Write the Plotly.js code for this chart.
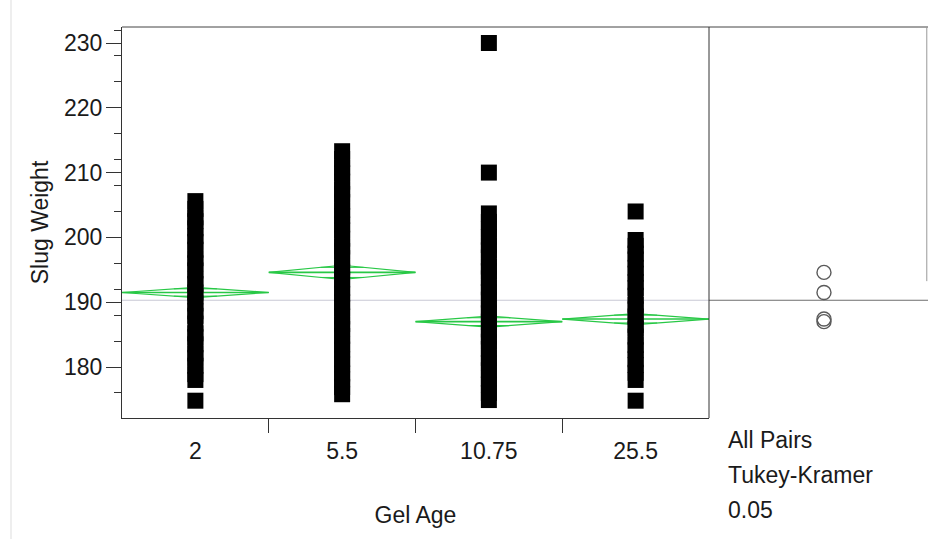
<!DOCTYPE html>
<html>
<head>
<meta charset="utf-8">
<script src="https://cdn.plot.ly/plotly-3.0.1.min.js"></script>
<style>html,body{margin:0;padding:0;background:#fff;}#chart{width:928px;height:539px;}</style>
</head>
<body>
<div id="chart"></div>
<script>
// ---- data ----
const categories = ["2", "5.5", "10.75", "25.5"];
const weights_2 = [174.8, 178.0, 178.9, 180.2, 181.4, 182.1, 183.5, 184.6, 185.2, 186.7, 187.9, 188.6, 189.8, 190.9, 191.5, 192.8, 193.6, 194.9, 196.0, 196.8, 198.1, 199.3, 200.2, 201.4, 202.5, 203.1, 204.4, 205.6];
const weights_5_5 = [175.8, 176.9, 178.1, 179.0, 180.4, 181.2, 182.7, 183.5, 184.8, 185.9, 186.6, 187.8, 189.1, 190.0, 191.3, 192.2, 193.5, 194.7, 195.4, 196.8, 197.9, 198.6, 199.8, 201.1, 202.0, 203.3, 204.2, 205.5, 206.7, 207.4, 208.6, 209.9, 210.8, 212.1, 213.3];
const weights_10_75 = [174.9, 176.0, 177.3, 178.2, 179.5, 180.6, 181.4, 182.8, 183.9, 184.7, 185.8, 187.0, 188.3, 189.1, 190.4, 191.6, 192.3, 193.7, 194.8, 195.5, 196.9, 198.0, 198.8, 200.1, 201.3, 202.4, 203.7, 210.0, 230.0];
const weights_25_5 = [174.8, 178.0, 179.1, 180.3, 181.2, 182.6, 183.4, 184.7, 185.9, 186.5, 187.8, 188.9, 189.6, 191.0, 192.2, 193.1, 194.4, 195.3, 196.6, 197.5, 198.7, 199.6, 204.0];
const groupMeans = [191.5, 194.6, 187.0, 187.4];
const ciHalfWidth = [0.8, 1.1, 0.85, 0.85];
const grandMean = 190.3;
const panelLabels = ["All Pairs", "Tukey-Kramer", "0.05"];

const groups = [weights_2, weights_5_5, weights_10_75, weights_25_5];
const FONT = "Liberation Sans, Arial, sans-serif";
const FS = 23;
const TXT = "#1a1a1a";
const GREEN = "rgb(40,200,70)";
const mainRight = 587 / 806;
const Y_RANGE = [172.13, 232.47];
const NO_MINOR = {ticks: "", showgrid: false};

const traces = [];
traces.push({x: [-0.5, 3.5], y: [grandMean, grandMean], mode: "lines", type: "scatter",
  line: {color: "rgb(200,200,212)", width: 1.2}, hoverinfo: "skip", showlegend: false});
groups.forEach((g, i) => {
  const m = groupMeans[i], h = ciHalfWidth[i];
  traces.push({x: [i - 0.5, i, i + 0.5, i, i - 0.5], y: [m, m + h, m, m - h, m],
    mode: "lines", type: "scatter", line: {color: GREEN, width: 1.2}, showlegend: false, hoverinfo: "skip"});
  traces.push({x: [i - 0.5, i + 0.5], y: [m, m], mode: "lines", type: "scatter",
    line: {color: GREEN, width: 1.6}, showlegend: false, hoverinfo: "skip"});
  const o = h / Math.SQRT2, w = 0.5 * (1 - 1 / Math.SQRT2);
  traces.push({x: [i - w, i + w, null, i - w, i + w], y: [m + o, m + o, null, m - o, m - o],
    mode: "lines", type: "scatter", line: {color: GREEN, width: 1}, showlegend: false, hoverinfo: "skip"});
});
groups.forEach((g, i) => {
  traces.push({x: g.map(() => i), y: g, mode: "markers", type: "scatter",
    marker: {symbol: "square", size: 16, color: "#000"}, showlegend: false, name: categories[i]});
});
traces.push({x: [-1.2, 1.2], y: [grandMean, grandMean], xaxis: "x3", yaxis: "y", mode: "lines",
  type: "scatter", line: {color: "rgb(110,110,110)", width: 1}, showlegend: false, hoverinfo: "skip"});
traces.push({x: groupMeans.map(() => 0), y: groupMeans, xaxis: "x3", yaxis: "y", mode: "markers",
  type: "scatter", marker: {symbol: "circle-open", size: 14, color: "rgb(90,90,90)", line: {width: 1.4}},
  showlegend: false, text: categories});
traces.push({x: [0], y: [190], xaxis: "x2", yaxis: "y", mode: "markers", marker: {opacity: 0}, showlegend: false, hoverinfo: "skip"});
traces.push({x: [0], y: [190], xaxis: "x", yaxis: "y2", mode: "markers", marker: {opacity: 0}, showlegend: false, hoverinfo: "skip"});

const annotations = panelLabels.map((t, k) => ({
  text: t, xref: "paper", yref: "paper", x: mainRight + 17 / 806, y: -(22 + 35 * k) / 391,
  xanchor: "left", yanchor: "middle", showarrow: false, font: {family: FONT, size: FS, color: TXT}
}));

const layout = {
  width: 928, height: 539,
  margin: {l: 122, r: 0, t: 27, b: 121},
  paper_bgcolor: "#fff", plot_bgcolor: "#fff",
  font: {family: FONT, color: TXT},
  xaxis: {domain: [0, mainRight], range: [-0.5, 3.5], tickvals: [0, 1, 2, 3], ticktext: categories,
    ticks: "", minor: NO_MINOR, showgrid: false, zeroline: false, showline: true, linecolor: "#333", linewidth: 1,
    tickfont: {family: FONT, size: FS, color: TXT}, ticklabelstandoff: 12,
    title: {text: "Gel Age", font: {family: FONT, size: FS, color: TXT}, standoff: 44}},
  xaxis2: {overlaying: "x", anchor: "y", range: [-0.5, 3.5], tickvals: [0.5, 1.5, 2.5], ticks: "outside",
    minor: NO_MINOR, ticklen: 14, tickcolor: "#333", showticklabels: false, showgrid: false, zeroline: false, showline: false},
  xaxis3: {domain: [mainRight, 1], anchor: "y", range: [-1.05, 0.95], showgrid: false, zeroline: false,
    minor: NO_MINOR, showline: false, showticklabels: false, ticks: ""},
  yaxis: {range: Y_RANGE, tickmode: "linear", tick0: 0, dtick: 10, ticks: "outside", ticklen: 15, tickcolor: "#333",
    minor: NO_MINOR, showgrid: false, zeroline: false, showline: true, linecolor: "#333", linewidth: 1,
    tickfont: {family: FONT, size: FS, color: TXT}, ticklabelstandoff: -1,
    title: {text: "Slug Weight", font: {family: FONT, size: FS, color: TXT}, standoff: 8}},
  yaxis2: {overlaying: "y", anchor: "x", side: "left", range: Y_RANGE, tickmode: "linear", tick0: 0, dtick: 4,
    minor: NO_MINOR, ticks: "outside", ticklen: 7, tickcolor: "#333", showticklabels: false, showgrid: false, zeroline: false, showline: false},
  shapes: [
    {type: "line", xref: "paper", yref: "paper", x0: 0, x1: 1, y0: 1, y1: 1, line: {color: "#444", width: 1}},
    {type: "line", xref: "paper", yref: "paper", x0: mainRight, x1: mainRight, y0: 0, y1: 1, line: {color: "#333", width: 1}},
    {type: "line", xref: "paper", yref: "paper", x0: 0.9985, x1: 0.9985, y0: 0.35, y1: 1, line: {color: "#999", width: 1}},
    {type: "line", xref: "paper", yref: "paper", x0: -111 / 806, x1: -111 / 806, y0: -0.31, y1: 1.07, line: {color: "#ddd", width: 1}}
  ],
  annotations: annotations
};

Plotly.newPlot("chart", traces, layout, {displayModeBar: false, staticPlot: true});
</script>
</body>
</html>
